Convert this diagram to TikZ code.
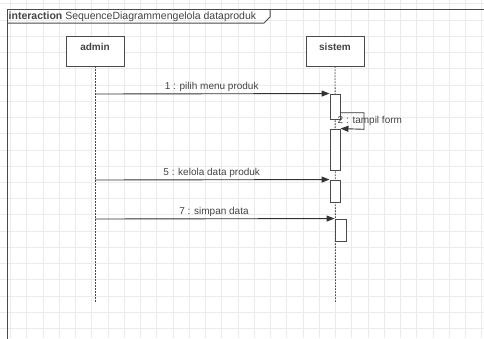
\documentclass[tikz,border=0pt]{standalone}
\usepackage{fontspec}
\setmainfont{Liberation Sans}
\usetikzlibrary{arrows.meta}
\definecolor{gridc}{HTML}{EBEBEB}
\definecolor{linec}{HTML}{333333}
\definecolor{textc}{HTML}{444444}
\definecolor{boxc}{HTML}{4A4A4A}
\begin{document}
\begin{tikzpicture}[x=1pt,y=-1pt,
  frameline/.style={draw=boxc,line width=1pt},
  head/.style={draw=boxc,line width=0.9pt,fill=white,minimum width=58pt,minimum height=30pt,inner sep=0pt},
  headlabel/.style={anchor=north,yshift=-4pt,font=\bfseries\fontsize{10}{12}\selectfont,text=textc},
  life/.style={draw=boxc,line width=0.9pt,dash pattern=on 1.5pt off 1.5pt},
  act/.style={draw=boxc,line width=0.9pt,fill=white,minimum width=10pt,inner sep=0pt},
  msg/.style={draw=linec,line width=0.9pt,-{Triangle[length=8pt,width=6pt]}},
  mlabel/.style={font=\fontsize{10}{12}\selectfont,text=textc,inner sep=0pt}]
\useasboundingbox (0,0) rectangle (484,338);
\fill[white] (0,0) rectangle (484,338);
\foreach \i in {0,...,29} \draw[gridc,line width=0.7pt] ({10.45+16.25*\i},0) -- ++(0,338);
\foreach \j in {0,...,20} \draw[gridc,line width=0.7pt] (0,{3.8+16.23*\j}) -- ++(484,0);
% frame
\draw[frameline] (7,345) -- (7,9) -- (490,9);
\draw[frameline] (7,23) -- (264,23) -- (270,17) -- (270,9);
\node[anchor=base west,inner sep=0pt,font=\fontsize{10.5}{12}\selectfont,text=textc] (title) at (8.5,19.3) {\textbf{interaction} SequenceDiagrammengelola dataproduk};
% heads
\node[head,label={[headlabel]north:admin}] (admin) at (95,51) {};
\node[head,label={[headlabel]north:sistem}] (sistem) at (335,51) {};
\coordinate (adminend) at (95,303);
\coordinate (sistemend) at (335.5,303);
\draw[life] (admin.south) -- (adminend);
\draw[life] (sistem.south) -- (sistemend);
% activations
\node[act,minimum height=25pt] (a1) at (335,106.5) {};
\node[act,minimum height=41pt] (a2) at (335,149.5) {};
\node[act,minimum height=22pt] (a3) at (335,191) {};
\node[act,minimum width=11pt,minimum height=22pt] (a4) at (340.5,230) {};
% messages
\coordinate (m1) at (95,94);
\coordinate (m5) at (95,180);
\coordinate (m7) at (95,219);
\draw[msg] (m1) -- (a1.north west);
\node[mlabel] (l1) at (211.7,87) {1 : pilih menu produk};
\coordinate (s2a) at (340,112.7);
\coordinate (s2b) at (364,112.7);
\coordinate (s2c) at (364,129.3);
\draw[msg] (s2a) -- (s2b) -- (s2c) -- (a2.north east);
\node[mlabel,anchor=west] (l2) at (337.5,120.7) {2 : tampil form};
\draw[msg] (m5) -- (a3.north west);
\node[mlabel] (l5) at (211.7,172.7) {5 : kelola data produk};
\draw[msg] (m7) -- (a4.north west);
\node[mlabel] (l7) at (214,211.7) {7 : simpan data};
\end{tikzpicture}
\end{document}
